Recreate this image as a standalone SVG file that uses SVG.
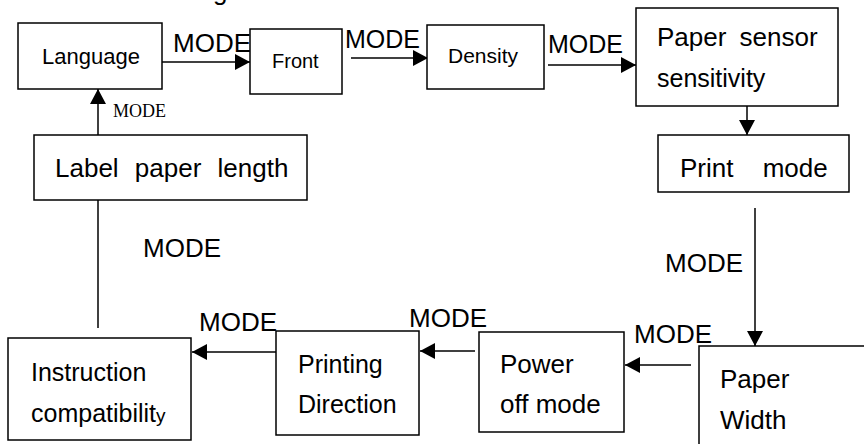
<svg xmlns="http://www.w3.org/2000/svg" width="864" height="444" viewBox="0 0 864 444">
<style>
  .box { fill: #fff; stroke: #000; stroke-width: 1.5; }
  .t { font-family: "Liberation Sans", Arial, sans-serif; fill: #000; }
  .ser { font-family: "Liberation Serif", "Times New Roman", serif; fill: #000; }
  .c { fill: none; stroke: #000; stroke-width: 1.5; }
</style>
<defs>
  <marker id="ah" markerUnits="userSpaceOnUse" markerWidth="15" markerHeight="16" refX="15" refY="8" orient="auto">
    <path d="M0,0 L15,8 L0,16 z" fill="#000"/>
  </marker>
</defs>
<rect width="864" height="444" fill="#fff"/>
<text class="t" x="213" y="0" font-size="26">g</text>

<g id="connectors">
  <path class="c" d="M162,62 H250" marker-end="url(#ah)"/>
  <path class="c" d="M351,58 H428" marker-end="url(#ah)"/>
  <path class="c" d="M548,65 H636" marker-end="url(#ah)"/>
  <path class="c" d="M747,106 V135" marker-end="url(#ah)"/>
  <path class="c" d="M755,208 V346" marker-end="url(#ah)"/>
  <path class="c" d="M691,365 H625" marker-end="url(#ah)"/>
  <path class="c" d="M475,351 H420" marker-end="url(#ah)"/>
  <path class="c" d="M276,352 H192" marker-end="url(#ah)"/>
  <path class="c" d="M98,328 V200"/>
  <path class="c" d="M98,135 V89" marker-end="url(#ah)"/>
  <text class="t" x="173" y="52" font-size="26">MODE</text>
  <text class="t" x="345" y="48" font-size="25">MODE</text>
  <text class="t" x="548" y="53" font-size="25">MODE</text>
  <text class="ser" x="113" y="117" font-size="18">MODE</text>
  <text class="t" x="143" y="257" font-size="26">MODE</text>
  <text class="t" x="665" y="272" font-size="26">MODE</text>
  <text class="t" x="199" y="331" font-size="26">MODE</text>
  <text class="t" x="409" y="327" font-size="26">MODE</text>
  <text class="t" x="634" y="343" font-size="26">MODE</text>
</g>

<g id="language">
  <rect class="box" x="18" y="23" width="144" height="66"/>
  <text class="t" x="42" y="64" font-size="22">Language</text>
</g>
<g id="front">
  <rect class="box" x="250" y="29" width="92" height="65"/>
  <text class="t" x="272" y="68" font-size="20">Front</text>
</g>
<g id="density">
  <rect class="box" x="427" y="25" width="117" height="64"/>
  <text class="t" x="448" y="63" font-size="21">Density</text>
</g>
<g id="paper-sensor">
  <rect class="box" x="636" y="8" width="202" height="98"/>
  <text class="t" x="657" y="46" font-size="26" word-spacing="6">Paper sensor</text>
  <text class="t" x="657" y="87" font-size="25">sensitivity</text>
</g>
<g id="print-mode">
  <rect class="box" x="658" y="135" width="191" height="57"/>
  <text class="t" x="680" y="177" font-size="26" word-spacing="22">Print mode</text>
</g>
<g id="label-paper-length">
  <rect class="box" x="34" y="135" width="273" height="65"/>
  <text class="t" x="55" y="177" font-size="26" word-spacing="9">Label paper length</text>
</g>
<g id="paper-width">
  <rect class="box" x="699" y="346" width="200" height="120"/>
  <text class="t" x="720" y="388" font-size="26">Paper</text>
  <text class="t" x="720" y="429" font-size="26">Width</text>
</g>
<g id="power-off-mode">
  <rect class="box" x="479" y="332" width="145" height="100"/>
  <text class="t" x="500" y="373" font-size="26">Power</text>
  <text class="t" x="500" y="413" font-size="26">off mode</text>
</g>
<g id="printing-direction">
  <rect class="box" x="276" y="331" width="143" height="104"/>
  <text class="t" x="298" y="373" font-size="25">Printing</text>
  <text class="t" x="298" y="413" font-size="25">Direction</text>
</g>
<g id="instruction-compatibility">
  <rect class="box" x="8" y="338" width="183" height="102"/>
  <text class="t" x="31" y="381" font-size="25">Instruction</text>
  <text class="t" x="31" y="422" font-size="25">compatibilit<tspan font-size="19">y</tspan></text>
</g>
</svg>
